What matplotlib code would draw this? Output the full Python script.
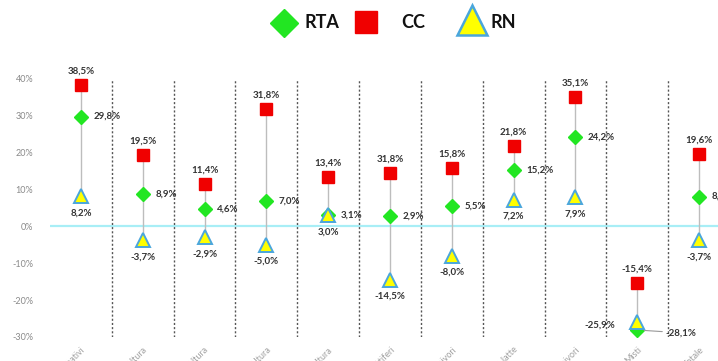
import numpy as np
import matplotlib
matplotlib.use("Agg")
import matplotlib.pyplot as plt

# categories (x labels are cut by the bottom edge in the reference)
categories = ["Seminativi", "Ortofloricoltura", "Viticoltura", "Frutticoltura",
              "Olivicoltura", "Fruttiferi", "Erbivori", "Bovini da latte",
              "Granivori", "Misti", "Totale"]

rta = [29.8, 8.9, 4.6, 7.0, 3.1, 2.9, 5.5, 15.2, 24.2, -28.1, 8.1]
cc = [38.5, 19.5, 11.4, 31.8, 13.4, 14.5, 15.8, 21.8, 35.1, -15.4, 19.6]
rn = [8.2, -3.7, -2.9, -5.0, 3.0, -14.5, -8.0, 7.2, 7.9, -25.9, -3.7]

# text shown next to the CC markers (one differs from its plotted value in the original)
cc_labels = ["38,5%", "19,5%", "11,4%", "31,8%", "13,4%", "31,8%", "15,8%",
             "21,8%", "35,1%", "-15,4%", "19,6%"]

series_names = ["RTA", "CC", "RN"]
yticks = [-30, -20, -10, 0, 10, 20, 30, 40]

GREEN = "#22E622"
RED = "#F00000"
YELLOW = "#FFFF00"
BLUE_EDGE = "#4AA6DC"
TXT = "#333333"

plt.rcParams["font.family"] = ["Lato", "DejaVu Sans"]


def pct(v):
    return f"{v:.1f}%".replace(".", ",")


fig = plt.figure(figsize=(7.18, 3.61), dpi=100)
ax = fig.add_axes([50 / 718, 24 / 361, 680 / 718, 258 / 361])

x = np.arange(len(categories))

# zero line
ax.axhline(0, color="#A8EEF6", lw=1.6, zorder=1)

# separators
for s in x[:-1] + 0.5:
    ax.plot([s, s], [-30, 40], color="#555555", lw=1.0,
            linestyle=(0, (1.5, 1.5)), zorder=1)

# connecting lines
for i in x:
    vals = [rta[i], cc[i], rn[i]]
    ax.plot([i, i], [min(vals), max(vals)], color="#BDBDBD", lw=1.0, zorder=2)

ax.plot(x, cc, "s", color=RED, ms=8, mec=RED, zorder=3, clip_on=False)
ax.plot(x, rta, "D", color=GREEN, ms=7, mec=GREEN, zorder=4, clip_on=False)
ax.plot(x, rn, "^", color=YELLOW, ms=10, mec=BLUE_EDGE, mew=1.4, zorder=5,
        clip_on=False)

box = dict(boxstyle="square,pad=0.1", fc="white", ec="none")
fs = 7

for i in x:
    # CC above
    ax.annotate(cc_labels[i], (i, cc[i]), xytext=(0, 10), textcoords="offset points",
                ha="center", va="center", fontsize=fs, color=TXT, fontweight="bold",
                zorder=6)
    if categories[i] == "Misti":
        ax.annotate(pct(rta[i]), (i, rta[i]), xytext=(20, -2),
                    textcoords="offset points", ha="left", va="center",
                    fontsize=fs, color=TXT, fontweight="bold", zorder=6,
                    arrowprops=dict(arrowstyle="-", color="#999999", lw=0.8,
                                    shrinkA=0, shrinkB=5))
        ax.annotate(pct(rn[i]), (i, rn[i]), xytext=(-16, -2),
                    textcoords="offset points", ha="right", va="center",
                    fontsize=fs, color=TXT, fontweight="bold", zorder=6)
    else:
        ax.annotate(pct(rta[i]), (i, rta[i]), xytext=(9, 0),
                    textcoords="offset points", ha="left", va="center",
                    fontsize=fs, color=TXT, fontweight="bold", zorder=6)
        ax.annotate(pct(rn[i]), (i, rn[i]), xytext=(0, -12),
                    textcoords="offset points", ha="center", va="center",
                    fontsize=fs, color=TXT, fontweight="bold", zorder=6, bbox=box)

ax.set_xlim(-0.5, len(categories) - 0.5)
ax.set_ylim(-30, 40)
ax.set_yticks(yticks)
ax.set_yticklabels([f"{t}%" for t in yticks], color="#8A8A8A", fontsize=6.5)
ax.set_xticks(x)
ax.set_xticklabels(categories, rotation=45, ha="right", rotation_mode="anchor",
                   color="#A0A0A0", fontsize=6.5)
ax.tick_params(length=0)
ax.tick_params(axis="y", pad=12)
ax.tick_params(axis="x", pad=6)
for sp in ax.spines.values():
    sp.set_visible(False)

# legend drawn in a pixel-based overlay
lg = fig.add_axes([0, 0, 1, 1], zorder=10)
lg.set_xlim(0, 718)
lg.set_ylim(361, 0)
lg.axis("off")
lg.plot(284, 23, "D", ms=14, color=GREEN, mec=GREEN)
lg.plot(366, 22, "s", ms=16, color=RED, mec=RED)
lg.plot(472, 20, "^", ms=22, color=YELLOW, mec=BLUE_EDGE, mew=1.8)
for tx, name in zip([304, 401, 491], series_names):
    lg.text(tx, 22, name, ha="left", va="center", fontsize=13,
            fontweight="bold", color="#111111")

fig.savefig("out.png", dpi=100)
